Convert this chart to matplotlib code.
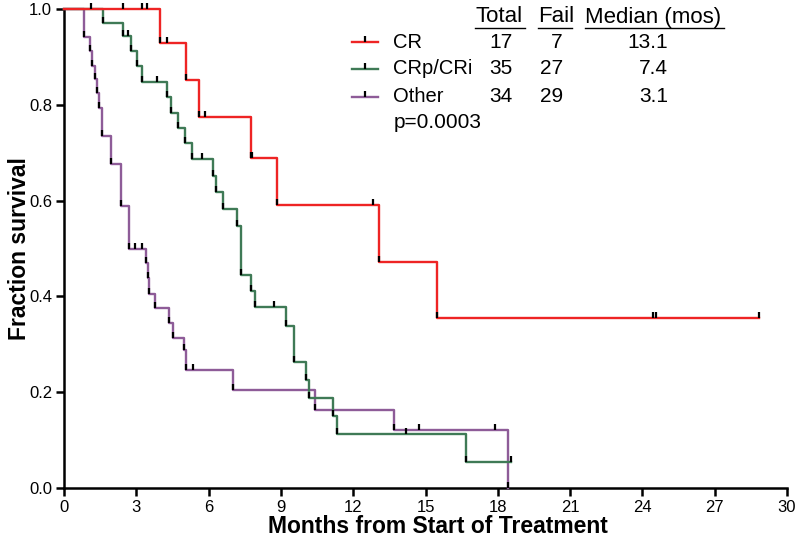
import matplotlib
matplotlib.use("Agg")
import matplotlib.pyplot as plt
from matplotlib.path import Path
from matplotlib.lines import Line2D
import numpy as np

plt.rcParams['font.family'] = ['Liberation Sans', 'DejaVu Sans']

# ---- data ----
groups = ["CR", "CRp/CRi", "Other"]
totals = ["17", "35", "34"]
fails = ["7", "27", "29"]
medians = ["13.1", "7.4", "3.1"]
p_text = "p=0.0003"

cr_times = [3.97, 5.06, 5.60, 7.75, 8.82, 13.08, 15.46]
cr_surv = [0.929, 0.851, 0.774, 0.688, 0.590, 0.472, 0.354]
cr_censor = [2.46, 3.22, 3.46, 4.26, 5.85, 7.82, 12.83, 24.45, 24.55, 28.85]
cr_last = 28.85

crp_times = [1.62, 2.43, 2.77, 3.01, 3.22, 4.26, 4.44, 4.74, 5.02, 5.33, 6.20,
             6.30, 6.61, 7.16, 7.33, 7.75, 7.92, 9.21, 9.56, 10.04, 10.18,
             11.18, 11.31, 16.70]
crp_surv = [0.971, 0.943, 0.912, 0.880, 0.848, 0.817, 0.783, 0.751, 0.720,
            0.686, 0.652, 0.617, 0.582, 0.547, 0.445, 0.412, 0.378, 0.338,
            0.264, 0.225, 0.187, 0.150, 0.113, 0.055]
crp_censor = [1.10, 2.67, 3.87, 5.71, 8.73, 14.19, 18.55]
crp_last = 18.55

oth_times = [0.83, 1.08, 1.18, 1.29, 1.36, 1.46, 1.56, 1.93, 2.35, 2.70, 3.40,
             3.47, 3.53, 3.78, 4.35, 4.54, 4.97, 5.05, 7.03, 10.41, 13.69, 18.44]
oth_surv = [0.941, 0.912, 0.882, 0.853, 0.824, 0.794, 0.735, 0.676, 0.588,
            0.500, 0.470, 0.438, 0.406, 0.375, 0.344, 0.313, 0.288, 0.246,
            0.205, 0.163, 0.122, 0.0]
oth_censor = [2.95, 3.22, 5.37, 14.75, 17.88]
oth_last = 18.44

colors = ["#ee2424", "#3f7a56", "#8e5c98"]

series = [
    (cr_times, cr_surv, cr_censor, cr_last),
    (crp_times, crp_surv, crp_censor, crp_last),
    (oth_times, oth_surv, oth_censor, oth_last),
]

W, H = 800, 550
fig = plt.figure(figsize=(W / 100, H / 100), dpi=100)
ax = fig.add_axes([64 / W, 62 / H, 723 / W, 479 / H])

up_tick = Path([(0, 0), (0, 1)], [Path.MOVETO, Path.LINETO])


def level_at(times, surv, t):
    idx = np.searchsorted(np.asarray(times), t, side='right') - 1
    return 1.0 if idx < 0 else surv[idx]


# draw in reverse so red is on top
for (times, surv, cens, last), col in reversed(list(zip(series, colors))):
    xs = [0.0] + list(times)
    ys = [1.0] + list(surv)
    if last > xs[-1]:
        xs.append(last)
        ys.append(ys[-1])
    ax.step(xs, ys, where='post', color=col, lw=1.7, clip_on=False, zorder=3)
    # marks at bottom of each drop
    ax.plot(times, surv, linestyle='none', marker=up_tick, markersize=8,
            mew=1.6, color='black', clip_on=False, zorder=4)
    # censor marks
    cl = [level_at(times, surv, t) for t in cens]
    ax.plot(cens, cl, linestyle='none', marker=up_tick, markersize=9,
            mew=1.6, color='black', clip_on=False, zorder=4)

ax.set_xlim(0, 30)
ax.set_ylim(0, 1.0)
ax.set_xticks(np.arange(0, 31, 3))
ax.set_yticks(np.arange(0, 1.01, 0.2))
ax.set_yticklabels([f"{v:.1f}" for v in np.arange(0, 1.01, 0.2)])
for s in ['top', 'right']:
    ax.spines[s].set_visible(False)
for s in ['left', 'bottom']:
    ax.spines[s].set_linewidth(1.8)
ax.tick_params(direction='out', length=6, width=1.8, labelsize=12, pad=2.5)
ax.set_xlabel("Months from Start of Treatment", fontsize=16.5, fontweight='bold')
ax.set_ylabel("Fraction survival", fontsize=16.5, fontweight='bold')
ax.xaxis.set_label_coords((438 - 64) / 723, (488 - 515) / 479)
ax.yaxis.set_label_coords((31 - 64) / 723, 0.5)


def fx(px):
    return px / W


def fy(py):
    return 1 - py / H


# header
headers = [("Total", 475, 525), ("Fail", 538, 572), ("Median (mos)", 585, 724)]
for txt, x0, x1 in headers:
    fig.text(fx(x0), fy(17), txt, fontsize=16, ha='left', va='center')
    fig.add_artist(Line2D([fx(x0), fx(x1)], [fy(28), fy(28)], color='black', lw=1.0))

row_y = [42, 69, 97]
for g, t, f, m, col, y in zip(groups, totals, fails, medians, colors, row_y):
    fig.add_artist(Line2D([fx(352), fx(378)], [fy(y), fy(y)], color=col, lw=1.7))
    fig.add_artist(Line2D([fx(365)], [fy(y)], marker=up_tick, markersize=9,
                          mew=1.6, color='black', linestyle='none'))
    fig.text(fx(393), fy(y), g, fontsize=14.5, ha='left', va='center')
    fig.text(fx(513), fy(y), t, fontsize=15, ha='right', va='center')
    fig.text(fx(563), fy(y), f, fontsize=15, ha='right', va='center')
    fig.text(fx(668), fy(y), m, fontsize=15, ha='right', va='center')
fig.text(fx(394), fy(123), p_text, fontsize=15, ha='left', va='center')

fig.savefig("out.png", dpi=100)
